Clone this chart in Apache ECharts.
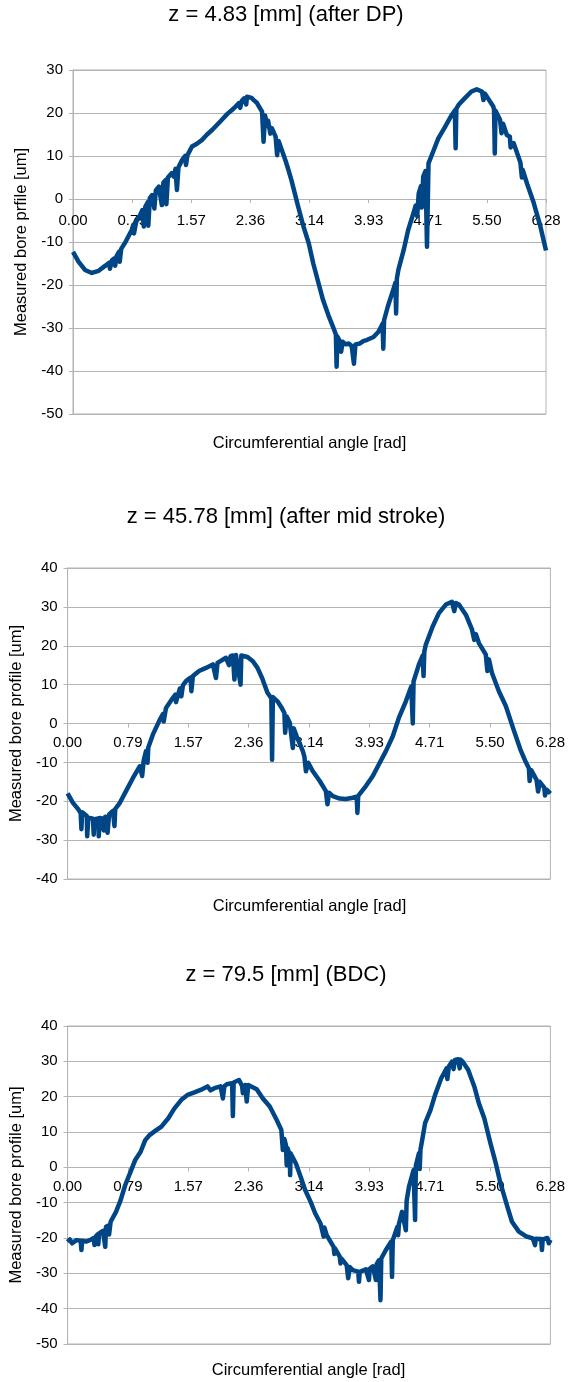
<!DOCTYPE html>
<html>
<head>
<meta charset="utf-8">
<script src="https://cdn.jsdelivr.net/npm/echarts@6/dist/echarts.min.js"></script>
<style>
  html, body { margin: 0; padding: 0; background: #ffffff; }
  #chart { width: 568px; height: 1382px; }
</style>
</head>
<body>
<div id="chart"></div>
<script>
// Panel titles and axis titles
const chartTitles = [
  'z = 4.83 [mm] (after DP)',
  'z = 45.78 [mm] (after mid stroke)',
  'z = 79.5 [mm] (BDC)'
];
const yAxisTitles = [
  'Measured bore prfile [um]',
  'Measured bore profile [um]',
  'Measured bore profile [um]'
];
const xAxisTitle = 'Circumferential angle [rad]';

// Angle ticks (quarter turns) and their printed labels
const xStep = 0.785;
const xMax = 6.28;
const xTickLabels = ['0.00', '0.79', '1.57', '2.36', '3.14', '3.93', '4.71', '5.50', '6.28'];

// Value-axis ranges [min, max] per panel, step 10 um
const yRanges = [[-50, 30], [-40, 40], [-50, 40]];
const yStep = 10;

// Measured bore profile [angle rad, deviation um] — z = 4.83 mm
const profileDP = [
  [0.00,-12.3],[0.075,-14.6],[0.16,-16.5],[0.25,-17.2],[0.34,-16.7],[0.43,-15.5],[0.48,-14.8],[0.49,-16.2],
  [0.52,-14.2],[0.55,-13.8],[0.56,-15.5],[0.58,-13.2],[0.61,-12.3],[0.62,-14.6],[0.64,-11.6],[0.70,-9.9],
  [0.78,-7.2],[0.80,-6.0],[0.81,-8.0],[0.84,-5.2],[0.87,-4.5],[0.92,-2.6],[0.94,-6.4],[0.96,-1.8],
  [0.99,-0.8],[1.00,-6.2],[1.02,0.2],[1.05,0.9],[1.08,-2.2],[1.10,2.0],[1.14,2.9],[1.18,-1.4],
  [1.20,3.8],[1.23,4.4],[1.24,-1.2],[1.26,5.0],[1.31,6.0],[1.34,5.2],[1.36,7.0],[1.38,2.1],
  [1.40,7.4],[1.45,9.1],[1.49,10.0],[1.50,7.9],[1.52,10.2],[1.58,12.2],[1.64,12.8],[1.71,13.7],
  [1.78,15.0],[1.85,16.1],[1.92,17.4],[1.98,18.5],[2.05,19.8],[2.11,20.7],[2.16,21.5],[2.20,22.3],
  [2.22,21.2],[2.24,22.8],[2.27,23.4],[2.30,22.0],[2.31,23.8],[2.33,23.7],[2.37,23.5],[2.40,23.0],
  [2.44,22.4],[2.47,21.5],[2.51,20.3],[2.53,13.3],[2.55,19.4],[2.58,17.0],[2.59,18.2],[2.62,15.2],
  [2.64,16.5],[2.69,14.5],[2.71,10.2],[2.73,13.5],[2.78,11.0],[2.82,9.0],[2.86,6.8],[2.90,4.4],
  [2.99,-1.8],[3.06,-6.4],[3.13,-10.3],[3.19,-15.0],[3.26,-19.6],[3.32,-23.5],[3.39,-27.0],[3.46,-30.1],
  [3.49,-31.5],[3.50,-39.0],[3.51,-32.0],[3.54,-33.0],[3.56,-35.5],[3.58,-33.2],[3.62,-33.8],[3.66,-33.6],
  [3.70,-34.2],[3.73,-38.3],[3.75,-33.8],[3.81,-33.6],[3.86,-33.0],[3.90,-32.8],[3.99,-32.1],[4.05,-31.0],
  [4.08,-30.1],[4.11,-29.0],[4.12,-34.8],[4.13,-28.2],[4.18,-25.0],[4.25,-21.2],[4.28,-19.5],[4.29,-26.6],
  [4.30,-18.5],[4.32,-16.5],[4.39,-11.9],[4.45,-7.2],[4.52,-3.3],[4.55,-1.5],[4.57,-4.0],[4.59,1.3],
  [4.62,3.0],[4.63,-2.0],[4.65,5.2],[4.68,6.5],[4.70,-11.1],[4.72,8.3],[4.79,11.4],[4.85,14.1],
  [4.94,16.8],[5.03,19.6],[5.07,20.6],[5.08,11.8],[5.09,21.0],[5.12,21.9],[5.20,23.4],[5.29,25.0],
  [5.36,25.5],[5.43,25.0],[5.45,23.0],[5.47,24.5],[5.51,23.4],[5.58,21.5],[5.59,20.8],[5.60,10.6],
  [5.61,20.5],[5.67,18.4],[5.69,15.3],[5.71,17.5],[5.76,14.9],[5.80,14.5],[5.81,12.0],[5.85,13.0],
  [5.94,8.5],[5.96,5.0],[5.97,6.8],[6.03,3.5],[6.11,-0.5],[6.20,-6.0],[6.28,-12.0]
];

// z = 45.78 mm
const profileMid = [
  [0.00,-18.0],[0.07,-20.4],[0.14,-22.1],[0.17,-23.0],[0.18,-27.2],[0.19,-22.8],[0.25,-23.8],[0.255,-29.0],
  [0.27,-24.2],[0.33,-24.5],[0.34,-28.6],[0.35,-24.6],[0.40,-24.4],[0.405,-29.0],[0.42,-24.3],[0.46,-24.5],
  [0.47,-27.5],[0.49,-24.0],[0.51,-23.8],[0.52,-28.1],[0.54,-23.4],[0.59,-22.5],[0.61,-26.4],[0.62,-22.0],
  [0.68,-20.4],[0.76,-17.4],[0.85,-14.0],[0.94,-11.0],[0.97,-13.5],[0.99,-9.5],[1.02,-7.1],[1.04,-10.1],
  [1.05,-6.2],[1.11,-2.8],[1.20,1.0],[1.24,2.4],[1.25,0.5],[1.28,4.0],[1.37,6.6],[1.40,7.4],
  [1.41,5.5],[1.46,9.0],[1.48,7.0],[1.50,9.8],[1.54,10.9],[1.60,11.8],[1.61,8.3],[1.63,12.2],
  [1.71,13.5],[1.80,14.3],[1.89,15.2],[1.93,11.7],[1.95,15.6],[1.97,16.0],[2.06,16.9],[2.10,15.0],
  [2.12,17.3],[2.15,17.5],[2.17,11.3],[2.19,17.6],[2.21,17.7],[2.25,10.0],[2.26,17.5],[2.28,17.5],
  [2.34,17.1],[2.41,16.0],[2.47,14.3],[2.53,11.7],[2.60,7.9],[2.65,6.5],[2.66,-9.3],[2.67,6.8],
  [2.73,5.7],[2.78,4.2],[2.82,2.7],[2.83,-2.4],[2.85,1.8],[2.89,0.2],[2.93,-6.3],[2.94,-1.2],
  [2.98,-3.3],[3.06,-7.1],[3.08,-8.5],[3.10,-12.3],[3.13,-10.1],[3.19,-12.3],[3.28,-14.8],[3.36,-17.4],
  [3.38,-20.8],[3.40,-17.8],[3.45,-18.7],[3.54,-19.3],[3.62,-19.4],[3.71,-19.1],[3.76,-18.8],[3.77,-23.0],
  [3.78,-18.6],[3.80,-18.3],[3.88,-16.1],[3.97,-13.5],[4.05,-10.5],[4.14,-7.1],[4.23,-3.3],[4.31,1.5],
  [4.40,5.7],[4.47,9.5],[4.49,0.0],[4.50,10.8],[4.57,15.2],[4.62,17.5],[4.63,12.2],[4.64,18.5],
  [4.66,20.3],[4.75,25.0],[4.83,28.4],[4.92,30.6],[5.00,31.3],[5.03,28.9],[5.05,31.0],[5.09,30.6],
  [5.18,28.0],[5.26,24.2],[5.29,21.5],[5.31,23.0],[5.35,20.7],[5.44,17.7],[5.46,13.5],[5.48,16.5],
  [5.52,13.0],[5.61,8.3],[5.70,4.5],[5.80,-1.5],[5.89,-6.7],[5.95,-9.5],[6.00,-11.5],[6.01,-14.8],
  [6.03,-12.0],[6.10,-14.5],[6.12,-17.5],[6.14,-15.0],[6.20,-16.5],[6.21,-18.5],[6.23,-17.0],[6.28,-18.0]
];

// z = 79.5 mm
const profileBDC = [
  [0.00,-21.1],[0.03,-20.4],[0.06,-21.5],[0.115,-20.6],[0.17,-20.8],[0.18,-23.4],[0.19,-20.8],[0.24,-21.0],
  [0.29,-20.6],[0.34,-20.0],[0.35,-22.0],[0.36,-19.8],[0.39,-19.0],[0.40,-21.8],[0.41,-18.7],[0.46,-18.0],
  [0.49,-22.5],[0.50,-16.8],[0.53,-16.5],[0.54,-19.0],[0.56,-15.4],[0.63,-12.6],[0.69,-9.3],[0.75,-5.0],
  [0.82,-1.2],[0.88,2.1],[0.95,4.4],[1.01,7.7],[1.07,9.2],[1.14,10.3],[1.22,11.5],[1.31,13.9],
  [1.39,16.7],[1.48,19.1],[1.56,20.5],[1.65,21.2],[1.73,21.9],[1.82,22.9],[1.86,21.8],[1.91,22.4],
  [1.99,22.9],[2.02,19.5],[2.04,23.0],[2.08,23.6],[2.14,23.8],[2.15,14.5],[2.16,24.0],[2.23,24.7],
  [2.27,23.0],[2.28,21.0],[2.31,23.3],[2.33,18.6],[2.35,23.3],[2.37,23.3],[2.46,22.1],[2.54,19.5],
  [2.63,17.2],[2.72,13.4],[2.78,10.6],[2.80,4.9],[2.82,8.0],[2.84,6.3],[2.85,0.6],[2.86,5.5],
  [2.89,3.5],[2.895,-2.2],[2.90,4.0],[2.97,1.1],[3.03,-2.6],[3.09,-6.4],[3.16,-9.7],[3.22,-13.0],
  [3.29,-15.9],[3.33,-19.6],[3.34,-17.0],[3.37,-19.2],[3.46,-22.5],[3.47,-24.5],[3.48,-23.0],[3.54,-25.3],
  [3.55,-27.2],[3.56,-25.8],[3.63,-27.7],[3.65,-31.4],[3.67,-28.2],[3.71,-29.1],[3.78,-29.5],[3.79,-32.4],
  [3.80,-29.6],[3.88,-28.9],[3.92,-31.9],[3.93,-28.7],[3.97,-28.0],[4.01,-31.9],[4.02,-27.4],[4.05,-26.3],
  [4.07,-37.6],[4.08,-25.8],[4.14,-23.4],[4.21,-21.0],[4.22,-31.0],[4.23,-20.6],[4.29,-16.8],[4.30,-19.2],
  [4.31,-16.0],[4.35,-12.6],[4.40,-17.8],[4.41,-9.5],[4.44,-5.5],[4.50,-0.8],[4.52,-14.9],[4.53,0.5],
  [4.57,4.0],[4.58,-0.5],[4.59,5.0],[4.62,8.7],[4.65,12.5],[4.72,16.2],[4.78,20.5],[4.86,25.2],
  [4.93,28.0],[4.94,25.0],[4.96,28.6],[5.00,29.9],[5.02,27.8],[5.04,30.4],[5.08,30.6],[5.10,28.0],
  [5.11,30.5],[5.14,29.9],[5.21,27.6],[5.29,22.9],[5.35,18.1],[5.42,13.9],[5.50,6.8],[5.57,1.1],
  [5.63,-4.5],[5.72,-11.1],[5.78,-15.4],[5.87,-18.2],[5.96,-19.5],[6.05,-20.1],[6.08,-22.0],[6.09,-20.2],
  [6.16,-20.3],[6.17,-23.4],[6.18,-20.4],[6.24,-20.0],[6.26,-21.5],[6.28,-20.5]
];

const profiles = [profileDP, profileMid, profileBDC];

// Panel placement on the page
const panels = [
  { left: 73, right: 22, top: 70,   height: 344, titleY: 15,  xTitleY: 443,  yNameGap: 42, xLabelMargin: 14 },
  { left: 67, right: 16, top: 568,  height: 311, titleY: 517, xTitleY: 906,  yNameGap: 39, xLabelMargin: 12 },
  { left: 63, right: 14, top: 1026, height: 318, titleY: 975, xTitleY: 1370, yNameGap: 37, xLabelMargin: 12 }
];

const FONT = '"Liberation Sans", Arial, sans-serif';
const GRID_GRAY = '#b3b3b3';
const LINE_BLUE = '#004586';
const PAGE_W = 568;

const grids = [], xAxes = [], yAxes = [], series = [], texts = [];

panels.forEach((p, i) => {
  const [yMin, yMax] = yRanges[i];
  // the angle axis runs along the 0 um line: lift it from the grid bottom by that share of the height
  const zeroLift = p.height * (0 - yMin) / (yMax - yMin);

  grids.push({
    left: p.left, right: p.right, top: p.top, height: p.height,
    show: true, borderColor: GRID_GRAY, borderWidth: 1, backgroundColor: 'transparent'
  });

  xAxes.push({
    gridIndex: i, type: 'value', min: 0, max: xMax, interval: xStep,
    position: 'bottom', offset: -zeroLift,
    axisLine: { show: true, onZero: false, lineStyle: { color: GRID_GRAY, width: 1 } },
    axisTick: { show: true, length: 4, lineStyle: { color: GRID_GRAY } },
    axisLabel: {
      fontSize: 15, fontFamily: FONT, color: '#000', margin: p.xLabelMargin,
      formatter: v => xTickLabels[Math.round(v / xStep)]
    },
    splitLine: { show: false }
  });

  yAxes.push({
    gridIndex: i, type: 'value', min: yMin, max: yMax, interval: yStep,
    axisLine: { show: true, lineStyle: { color: GRID_GRAY, width: 1 } },
    axisTick: { show: true, length: 4, lineStyle: { color: GRID_GRAY } },
    axisLabel: { fontSize: 15, fontFamily: FONT, color: '#000', margin: 10 },
    splitLine: { show: true, lineStyle: { color: GRID_GRAY, width: 1 } },
    name: yAxisTitles[i], nameLocation: 'middle', nameRotate: 90, nameGap: p.yNameGap,
    nameTextStyle: { fontSize: 16.5, fontFamily: FONT, color: '#000' }
  });

  series.push({
    type: 'line', xAxisIndex: i, yAxisIndex: i, data: profiles[i],
    showSymbol: false, symbol: 'none', smooth: false, animation: false,
    lineStyle: { color: LINE_BLUE, width: 4.5, join: 'round', cap: 'butt' },
    emphasis: { disabled: true }
  });

  const plotCenterX = p.left + (PAGE_W - p.left - p.right) / 2;
  texts.push({
    type: 'text', x: 286, y: p.titleY, silent: true,
    style: {
      text: chartTitles[i], fill: '#000', fontSize: 22, fontFamily: FONT,
      align: 'center', verticalAlign: 'middle', textAlign: 'center', textVerticalAlign: 'middle'
    }
  });
  texts.push({
    type: 'text', x: plotCenterX, y: p.xTitleY, silent: true,
    style: {
      text: xAxisTitle, fill: '#000', fontSize: 16.5, fontFamily: FONT,
      align: 'center', verticalAlign: 'middle', textAlign: 'center', textVerticalAlign: 'middle'
    }
  });
});

const chart = echarts.init(document.getElementById('chart'), null, { renderer: 'canvas' });
chart.setOption({
  backgroundColor: '#ffffff',
  animation: false,
  grid: grids,
  xAxis: xAxes,
  yAxis: yAxes,
  series: series,
  graphic: { elements: texts }
});
</script>
</body>
</html>
